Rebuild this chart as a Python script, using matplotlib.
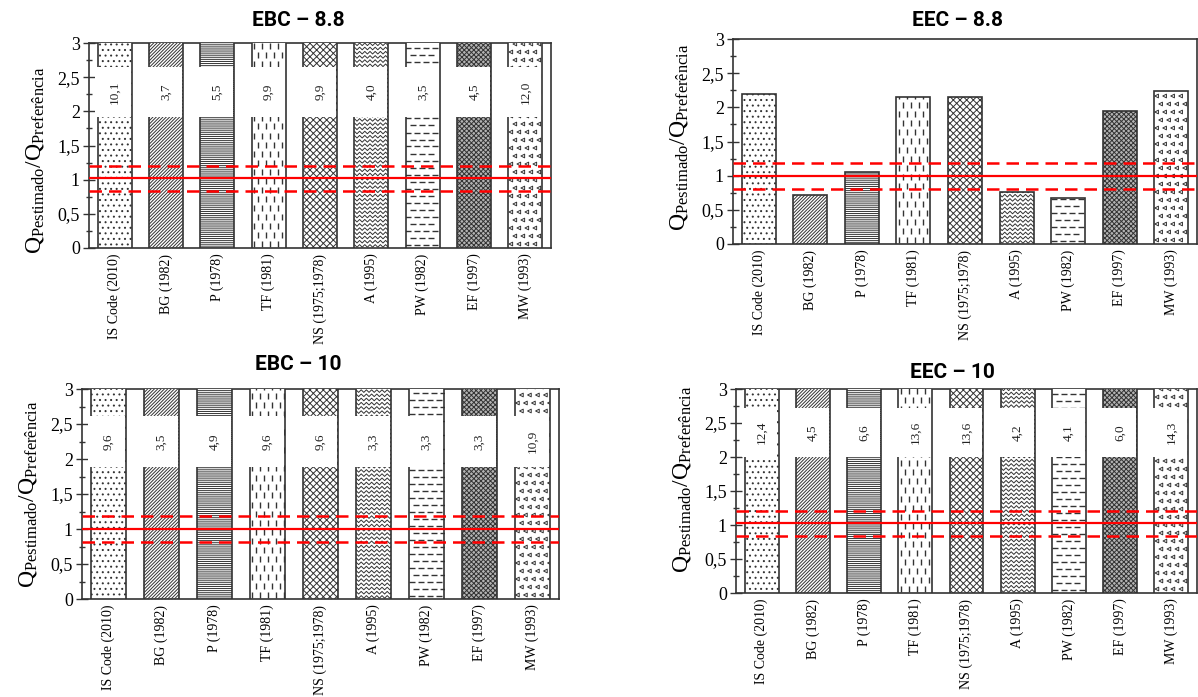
import numpy as np
import matplotlib
matplotlib.use('Agg')
import matplotlib.pyplot as plt
from matplotlib.collections import LineCollection
from matplotlib.patches import Rectangle
from matplotlib.ticker import MultipleLocator, FuncFormatter

# methods compared in every panel
methods = ['IS Code (2010)', 'BG (1982)', 'P (1978)', 'TF (1981)', 'NS (1975;1978)',
           'A (1995)', 'PW (1982)', 'EF (1997)', 'MW (1993)']

# Q estimado / Q referencia for each panel
ebc_88 = [10.1, 3.7, 5.5, 9.9, 9.9, 4.0, 3.5, 4.5, 12.0]
eec_88 = [2.20, 0.71, 1.06, 2.15, 2.15, 0.76, 0.67, 1.94, 2.24]
ebc_10 = [9.6, 3.5, 4.9, 9.6, 9.6, 3.3, 3.3, 3.3, 10.9]
eec_10 = [12.4, 4.5, 6.6, 13.6, 13.6, 4.2, 4.1, 6.0, 14.3]

titles = ['EBC – 8.8', 'EEC – 8.8', 'EBC – 10', 'EEC – 10']

# red reference lines (mean and the two dashed limits)
mean_lines = [1.02, 1.00, 1.005, 1.03]
upper_lines = [1.20, 1.19, 1.19, 1.21]
lower_lines = [0.83, 0.80, 0.81, 0.84]

W, H = 1198, 697
INK = '#333333'

# fill style per method
textures = [('hatch', '...'), ('hatch', '/' * 10), ('hatch', '-' * 8), ('vdash', None),
            ('hatch', 'x' * 5), ('zigzag', None), ('hdash', None), ('grid', 'x' * 7),
            ('chevron', None)]

plt.rcParams['font.family'] = 'Liberation Serif'
plt.rcParams['hatch.linewidth'] = 0.7


def px_scale(ax):
    """pixels per data unit along x and y"""
    fig = ax.figure
    pos = ax.get_position()
    w_px = pos.width * fig.get_figwidth() * fig.dpi
    h_px = pos.height * fig.get_figheight() * fig.dpi
    x0, x1 = ax.get_xlim()
    y0, y1 = ax.get_ylim()
    return w_px / (x1 - x0), h_px / (y1 - y0)


def add_texture(ax, bar, kind):
    sx, sy = px_scale(ax)
    x0 = bar.get_x()
    w = bar.get_width()
    top = min(bar.get_height(), ax.get_ylim()[1])
    # visible part of the bar, used to clip the pattern
    clip = Rectangle((x0, 0), w, top, transform=ax.transData)

    if kind == 'zigzag':
        step_y = 4.2 / sy
        half = 2.6 / sx
        amp = 1.3 / sy
        xs = np.arange(x0, x0 + w + half, half)
        sign = np.where(np.arange(len(xs)) % 2 == 0, 1.0, -1.0)
        segs = [np.column_stack([xs, yy + amp * sign])
                for yy in np.arange(step_y / 2, top + step_y, step_y)]
        lc = LineCollection(segs, colors=INK, linewidths=0.7, zorder=3.2)
        ax.add_collection(lc)
        lc.set_clip_path(clip)
        return

    spacing = {'vdash': (8, 9), 'hdash': (9, 7), 'chevron': (8, 8)}[kind]
    step_x = spacing[0] / sx
    step_y = spacing[1] / sy
    px, py = [], []
    for i, yy in enumerate(np.arange(step_y / 2, top + step_y, step_y)):
        off = step_x / 2 if i % 2 else 0
        for xx in np.arange(x0 + step_x * 0.3 + off, x0 + w, step_x):
            px.append(xx)
            py.append(yy)
    if kind == 'chevron':
        sc = ax.scatter(px, py, marker='<', s=7, facecolors='none',
                        edgecolors=INK, linewidths=0.7, zorder=3.2)
    else:
        sc = ax.scatter(px, py, marker='|' if kind == 'vdash' else '_', s=13,
                        color=INK, linewidths=1.0, zorder=3.2)
    sc.set_clip_path(clip)


def draw_panel(fig, box_px, title, title_px, values, mean, upper, lower, label_band, label_y):
    l, r, t, b = box_px
    ax = fig.add_axes([l / W, 1 - b / H, (r - l) / W, (b - t) / H])
    ax.set_xlim(-0.5, len(methods) - 0.5)
    ax.set_ylim(0, 3)

    x = np.arange(len(methods))
    width = 0.66
    bars = ax.bar(x, values, width=width, color='white', edgecolor=INK,
                  linewidth=1.2, zorder=3)
    for bar, (kind, pattern) in zip(bars, textures):
        if kind == 'hatch':
            bar.set_hatch(pattern)
        elif kind == 'grid':
            bar.set_facecolor('#b4b4b4')
            bar.set_hatch(pattern)
        else:
            add_texture(ax, bar, kind)

    # white window with the real value on bars that leave the axis
    if label_band is not None:
        lo, hi = label_band
        for xi, v in zip(x, values):
            if v <= 3:
                continue
            ax.add_patch(Rectangle((xi - width / 2 - 0.05, lo), width + 0.03, hi - lo,
                                   facecolor='white', edgecolor='none', zorder=3.5))
            ax.text(xi, (lo + hi) / 2, '{:.1f}'.format(v).replace('.', ','),
                    rotation=90, ha='center', va='center', fontsize=9.5,
                    color='#222222', zorder=3.6)

    ax.axhline(mean, color='#ff0000', lw=1.6, zorder=4)
    for yv in (upper, lower):
        ax.axhline(yv, color='#ff0000', lw=1.8, ls=(0, (5, 2.8)), zorder=4)

    ax.yaxis.set_major_locator(MultipleLocator(0.5))
    ax.yaxis.set_minor_locator(MultipleLocator(0.25))
    ax.yaxis.set_major_formatter(FuncFormatter(lambda v, p: '{:g}'.format(v).replace('.', ',')))
    ax.tick_params(axis='y', which='major', direction='inout', length=9, width=1,
                   color=INK, labelsize=13, pad=2)
    ax.tick_params(axis='y', which='minor', direction='inout', length=5, width=1, color=INK)
    ax.set_xticks(x)
    ax.set_xticklabels(methods, rotation=90, fontsize=10)
    ax.tick_params(axis='x', length=0, pad=4)
    for sp in ax.spines.values():
        sp.set_color(INK)
        sp.set_linewidth(1.2)

    ax.set_ylabel(r'$\mathregular{Q_{Pestimado}/Q_{Preferência}}$', fontsize=17, labelpad=8)
    ax.yaxis.label.set_y(label_y)

    fig.text(title_px[0] / W, 1 - title_px[1] / H, title, ha='center', va='center',
             fontsize=15, fontweight='bold', family='Roboto')
    ax.set_xlim(-0.5, len(methods) - 0.5)
    ax.set_ylim(0, 3)
    return ax


fig = plt.figure(figsize=(W / 100, H / 100), dpi=100)

panels = [
    ((89, 551, 43, 248), (298, 21), ebc_88, (1.92, 2.65), 0.43),
    ((733, 1197, 39, 244), (957, 21), eec_88, None, 0.52),
    ((82, 559, 389, 599), (298, 364), ebc_10, (1.88, 2.62), 0.5),
    ((736, 1197, 389, 593), (952, 373), eec_10, (2.0, 2.72), 0.56),
]
for i, (box_px, title_px, values, band, label_y) in enumerate(panels):
    draw_panel(fig, box_px, titles[i], title_px, values, mean_lines[i],
               upper_lines[i], lower_lines[i], band, label_y)

fig.savefig('out.png', dpi=100)
